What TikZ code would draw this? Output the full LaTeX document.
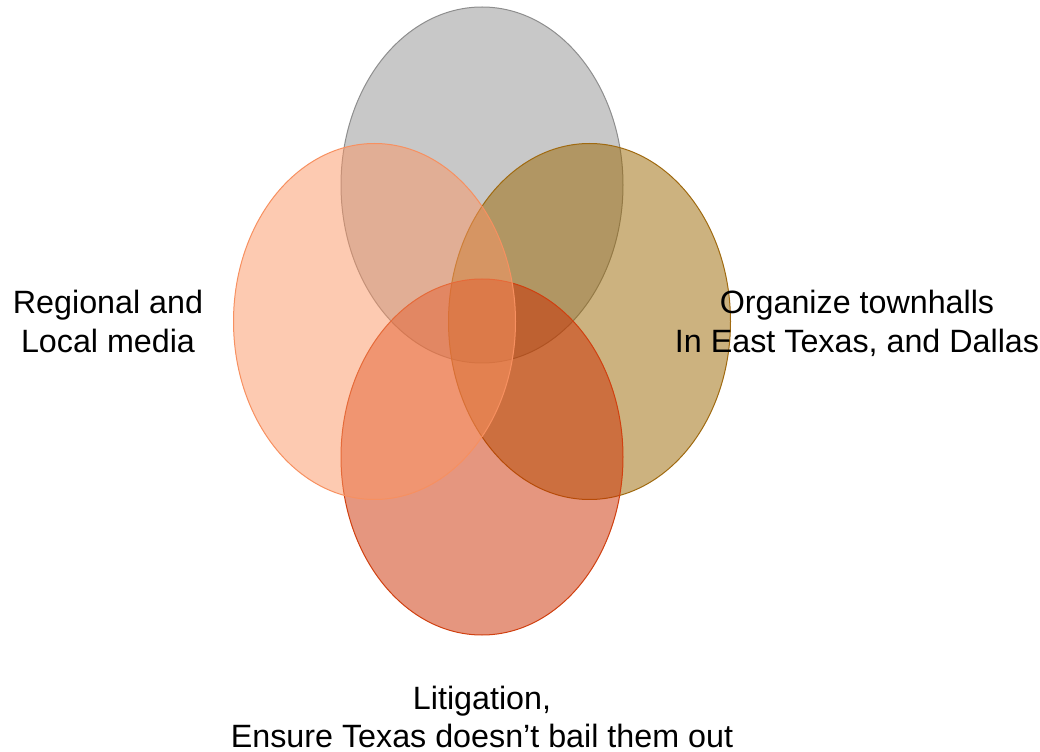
\documentclass[tikz,border=0pt]{standalone}
\usepackage{fontspec}
\setmainfont{Liberation Sans}
\definecolor{greyfill}{HTML}{919191}
\definecolor{greyline}{HTML}{8E8E8E}
\definecolor{peachfill}{HTML}{FB9563}
\definecolor{peachline}{HTML}{F79060}
\definecolor{tanfill}{HTML}{9A6600}
\definecolor{tanline}{HTML}{A06A10}
\definecolor{redfill}{HTML}{CC2D00}
\definecolor{redline}{HTML}{D04010}
\begin{document}
\begin{tikzpicture}[
    x=0.75pt, y=0.75pt,
    set/.style={line width=0.75pt, fill opacity=0.5},
    setlabel/.style={align=center, inner sep=0pt, font=\fontsize{24.2}{29}\selectfont}
]
\useasboundingbox (0,0) rectangle (1040,751);

% Sets
\draw[set, draw=greyline, fill=greyfill] (482,566) ellipse (141 and 178);
\draw[set, draw=tanline, fill=tanfill] (589.5,429.5) ellipse (141 and 178);
\draw[set, draw=redline, fill=redfill] (482,294) ellipse (141 and 178);
\draw[set, draw=peachline, fill=peachfill] (374.5,429.5) ellipse (141 and 178);

% Labels
\node[setlabel] (media) at (108,425.5) {\strut Regional and\\\strut Local media};
\node[setlabel] (townhalls) at (857,425.5) {\strut Organize townhalls\\\strut In East Texas, and Dallas};
\node[setlabel] (litigation) at (482,36) {\strut Litigation,\\Ensure Texas doesn’t bail them out};

\end{tikzpicture}
\end{document}
